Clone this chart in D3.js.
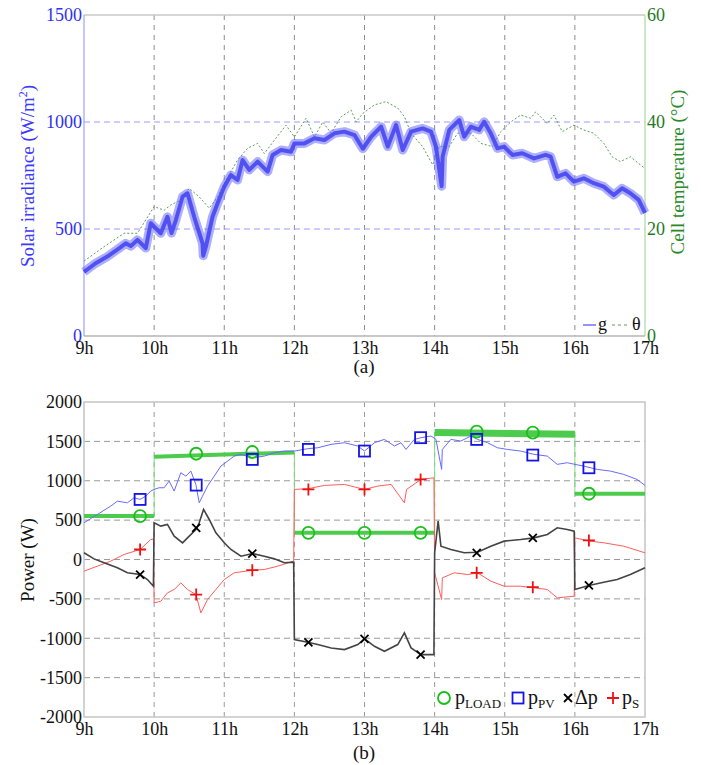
<!DOCTYPE html>
<html>
<head>
<meta charset="utf-8">
<script src="https://cdn.jsdelivr.net/npm/d3@7"></script>
<style>
  body { margin: 0; background: #fff; }
</style>
</head>
<body>
<div class="diagram"></div>
<script>
// ---- data (hours, values) ----
const hourTicks = [9, 10, 11, 12, 13, 14, 15, 16, 17];
const hourLabels = ["9h", "10h", "11h", "12h", "13h", "14h", "15h", "16h", "17h"];
const gTicks = [0, 500, 1000, 1500];
const tTicks = [0, 20, 40, 60];
const pTicks = [-2000, -1500, -1000, -500, 0, 500, 1000, 1500, 2000];

// solar irradiance g (W/m2)
const gT = [9.0, 9.167, 9.333, 9.5, 9.595, 9.667, 9.762, 9.881, 9.952, 10.0, 10.095, 10.19, 10.248, 10.31, 10.405, 10.476, 10.571, 10.69, 10.70, 10.738, 10.833, 10.905, 11.0, 11.095, 11.19, 11.262, 11.357, 11.476, 11.619, 11.69, 11.81, 11.952, 12.0, 12.143, 12.286, 12.429, 12.571, 12.714, 12.857, 12.976, 13.095, 13.237, 13.332, 13.45, 13.545, 13.664, 13.829, 13.948, 14.019, 14.10, 14.114, 14.209, 14.351, 14.422, 14.517, 14.635, 14.706, 14.801, 14.896, 14.991, 15.109, 15.251, 15.417, 15.583, 15.654, 15.749, 15.867, 15.986, 16.128, 16.27, 16.412, 16.555, 16.673, 16.791, 16.91, 17.0];
const gV = [300, 340, 371, 410, 433, 420, 449, 411, 527, 511, 480, 557, 481, 542, 651, 667, 557, 433, 375, 417, 557, 620, 698, 752, 729, 822, 776, 815, 768, 846, 869, 861, 900, 900, 924, 916, 947, 955, 939, 875, 931, 978, 885, 986, 869, 955, 970, 955, 885, 700, 838, 963, 1009, 931, 978, 963, 1001, 947, 877, 885, 846, 854, 830, 846, 838, 744, 760, 721, 737, 714, 698, 659, 690, 667, 636, 575];

// cell temperature theta (degC)
const thT = [9.0, 9.286, 9.571, 9.762, 10.0, 10.143, 10.238, 10.381, 10.5, 10.643, 10.786, 10.905, 11.0, 11.19, 11.333, 11.476, 11.571, 11.714, 11.881, 12.0, 12.167, 12.286, 12.405, 12.524, 12.667, 12.81, 12.881, 12.976, 13.142, 13.308, 13.474, 13.569, 13.664, 13.829, 13.972, 14.066, 14.209, 14.327, 14.517, 14.659, 14.825, 14.943, 15.085, 15.227, 15.37, 15.441, 15.607, 15.701, 15.82, 15.986, 16.128, 16.27, 16.412, 16.531, 16.649, 16.791, 17.0];
const thV = [14.0, 16.7, 19.2, 19.2, 24.2, 23.5, 24.5, 25.4, 27.6, 26.0, 23.9, 26.0, 28.5, 32.9, 35.1, 36.0, 34.1, 36.6, 39.4, 37.2, 40.7, 37.2, 40.0, 37.9, 41.0, 42.2, 40.0, 41.6, 43.2, 43.8, 42.6, 41.0, 37.9, 35.4, 32.0, 35.4, 35.4, 37.9, 37.9, 36.0, 35.4, 38.2, 40.0, 41.3, 40.7, 41.9, 39.7, 41.3, 38.2, 39.4, 38.5, 37.9, 36.0, 33.5, 32.6, 33.5, 31.3];

// load power (step profile)
const loadT = [9, 10, 10, 12, 12, 14, 14, 16, 16, 17];
const loadV = [551, 551, 1305, 1360, 339, 339, 1612, 1590, 835, 835];

// PV power
const pvT = [9.0, 9.19, 9.381, 9.476, 9.619, 9.714, 9.8, 9.881, 9.952, 10.0, 10.071, 10.143, 10.214, 10.286, 10.381, 10.452, 10.524, 10.595, 10.643, 10.69, 10.762, 10.857, 10.952, 11.048, 11.143, 11.238, 11.405, 11.571, 11.714, 11.857, 12.0, 12.19, 12.333, 12.524, 12.714, 12.905, 13.0, 13.142, 13.284, 13.427, 13.521, 13.592, 13.711, 13.806, 13.948, 14.019, 14.10, 14.11, 14.232, 14.374, 14.517, 14.611, 14.754, 14.896, 15.038, 15.227, 15.417, 15.607, 15.749, 15.891, 16.0, 16.128, 16.318, 16.507, 16.697, 16.886, 17.0];
const pvV = [466, 572, 678, 741, 720, 784, 763, 805, 869, 890, 911, 911, 996, 869, 1102, 1059, 1123, 953, 720, 805, 932, 1059, 1186, 1250, 1313, 1335, 1292, 1313, 1356, 1377, 1377, 1407, 1419, 1462, 1483, 1441, 1377, 1483, 1525, 1441, 1483, 1398, 1525, 1547, 1568, 1525, 1144, 1398, 1525, 1504, 1568, 1525, 1483, 1419, 1398, 1377, 1335, 1313, 1208, 1229, 1208, 1186, 1144, 1123, 1080, 1017, 941];

// delta p
const dpT = [9.0, 9.143, 9.286, 9.476, 9.619, 9.8, 9.905, 9.99, 10.0, 10.095, 10.19, 10.286, 10.405, 10.476, 10.595, 10.643, 10.705, 10.786, 10.881, 11.0, 11.095, 11.238, 11.405, 11.571, 11.714, 11.857, 11.99, 12.0, 12.19, 12.333, 12.524, 12.714, 12.905, 13.0, 13.142, 13.284, 13.474, 13.569, 13.664, 13.806, 13.99, 14.0, 14.05, 14.09, 14.232, 14.422, 14.611, 14.801, 14.991, 15.227, 15.417, 15.607, 15.749, 15.891, 15.99, 16.0, 16.2, 16.412, 16.602, 16.791, 17.0];
const dpV = [85, 8, -42, -106, -169, -191, -254, -339, 466, 424, 445, 297, 212, 275, 381, 466, 636, 508, 339, 212, 127, 42, 76, 42, 8, -42, -34, -1017, -1051, -1080, -1123, -1144, -1080, -1008, -1102, -1165, -1080, -932, -1123, -1208, -1208, 85, 487, 169, 127, 85, 93, 169, 233, 254, 275, 318, 403, 381, 360, -381, -330, -288, -254, -191, -106];

// storage power p_S
const psT = [9.0, 9.19, 9.381, 9.571, 9.8, 9.952, 9.99, 10.0, 10.095, 10.19, 10.286, 10.381, 10.476, 10.595, 10.667, 10.762, 10.881, 11.0, 11.143, 11.405, 11.571, 11.762, 11.99, 12.0, 12.19, 12.429, 12.714, 12.905, 13.0, 13.19, 13.38, 13.569, 13.6, 13.806, 13.99, 14.0, 14.1, 14.11, 14.28, 14.474, 14.611, 14.801, 14.991, 15.227, 15.417, 15.607, 15.749, 15.99, 16.0, 16.213, 16.412, 16.697, 17.0];
const psV = [-148, -85, -21, 64, 127, 254, 260, -551, -530, -424, -381, -297, -381, -445, -678, -508, -381, -254, -169, -136, -127, -85, -21, 890, 898, 941, 953, 911, 890, 932, 953, 720, 890, 1017, 1038, -169, -508, -233, -169, -191, -169, -275, -339, -339, -360, -381, -487, -466, 275, 233, 212, 169, 85];

// markers
const markT = [9.8, 10.6, 11.4, 12.2, 13.0, 13.8, 14.6, 15.4, 16.2];
const markLoad = [551, 1343, 1365, 339, 339, 339, 1623, 1610, 835];
const markPV = [763, 945, 1271, 1398, 1377, 1547, 1525, 1326, 1165];
const markDp = [-191, 403, 76, -1051, -1008, -1208, 85, 275, -330];
const markPs = [127, -445, -136, 890, 890, 1017, -169, -352, 242];

// ---- layout ----
const W = 701, H = 765;
const x0 = 84, x1 = 645;
const FONT = '"Liberation Serif", "Times New Roman", "DejaVu Serif", serif';
const svg = d3.select(".diagram").append("svg").attr("width", W).attr("height", H);

const x = d3.scaleLinear().domain([9, 17]).range([x0, x1]);
const yG = d3.scaleLinear().domain([0, 1500]).range([336, 15]);
const yT = d3.scaleLinear().domain([0, 60]).range([336, 15]);
const yP = d3.scaleLinear().domain([-2000, 2000]).range([717, 402]);

const pts = (T, V) => T.map((t, i) => [t, V[i]]);
const plain = d => String(d).replace("−", "-");

// ================= panel (a) =================
const a = svg.append("g");
a.selectAll(".vg").data(hourTicks.slice(1, -1)).enter().append("line")
  .attr("x1", d => x(d)).attr("x2", d => x(d))
  .attr("y1", yG(1500)).attr("y2", yG(0))
  .attr("stroke", "#8c8c8c").attr("stroke-dasharray", "5,5").attr("stroke-width", 1);
a.selectAll(".hg").data([500, 1000]).enter().append("line")
  .attr("x1", x0).attr("x2", x1)
  .attr("y1", d => yG(d)).attr("y2", d => yG(d))
  .attr("stroke", "#9a9aff").attr("stroke-dasharray", "6,4").attr("stroke-width", 1);
a.append("line").attr("x1", x0).attr("x2", x1).attr("y1", 15).attr("y2", 15).attr("stroke", "#c8c8c8").attr("stroke-width", 1.5);
a.append("line").attr("x1", x0).attr("x2", x1).attr("y1", 336).attr("y2", 336).attr("stroke", "#b4b4b4").attr("stroke-width", 1.5);
a.append("line").attr("x1", x0).attr("x2", x0).attr("y1", 15).attr("y2", 336).attr("stroke", "#a0a0ff").attr("stroke-width", 1.2);
a.append("line").attr("x1", x1).attr("x2", x1).attr("y1", 15).attr("y2", 336).attr("stroke", "#a8d8a8").attr("stroke-width", 1.2);

const lineG = d3.line().x(d => x(d[0])).y(d => yG(d[1]));
const lineT = d3.line().x(d => x(d[0])).y(d => yT(d[1]));
a.append("path").datum(pts(thT, thV)).attr("d", lineT)
  .attr("fill", "none").attr("stroke", "#5a9d5a").attr("stroke-width", 1).attr("stroke-dasharray", "2,2");
a.append("path").datum(pts(gT, gV)).attr("d", lineG)
  .attr("fill", "none").attr("stroke", "#6b6bff").attr("stroke-width", 9).attr("stroke-opacity", 0.55)
  .attr("stroke-linejoin", "round");
a.append("path").datum(pts(gT, gV)).attr("d", lineG)
  .attr("fill", "none").attr("stroke", "#4747f0").attr("stroke-width", 4).attr("stroke-opacity", 0.9)
  .attr("stroke-linejoin", "round");

const axL = a.append("g").attr("transform", `translate(${x0},0)`)
  .call(d3.axisLeft(yG).tickValues(gTicks).tickFormat(plain).tickSize(0).tickPadding(2));
axL.select(".domain").remove();
axL.selectAll("text").attr("fill", "#3030f0");
const axR = a.append("g").attr("transform", `translate(${x1},0)`)
  .call(d3.axisRight(yT).tickValues(tTicks).tickFormat(plain).tickSize(0).tickPadding(2));
axR.select(".domain").remove();
axR.selectAll("text").attr("fill", "#1f7a1f");
const axBa = a.append("g").attr("transform", "translate(0,336)")
  .call(d3.axisBottom(x).tickValues(hourTicks).tickFormat((d, i) => hourLabels[i]).tickSize(0).tickPadding(5));
axBa.select(".domain").remove();
axBa.selectAll("text").attr("fill", "#111");

const labG = a.append("text").attr("transform", "translate(34,176) rotate(-90)")
  .attr("text-anchor", "middle").attr("fill", "#3b3bff").style("font-size", "19px");
labG.append("tspan").text("Solar irradiance (W/m");
labG.append("tspan").attr("dy", -7).style("font-size", "12px").text("2");
labG.append("tspan").attr("dy", 7).text(")");
a.append("text").attr("transform", "translate(684,172) rotate(-90)")
  .attr("text-anchor", "middle").attr("fill", "#2a8a2a").style("font-size", "19px")
  .text("Cell temperature (°C)");

a.append("line").attr("x1", 583).attr("x2", 596).attr("y1", 325).attr("y2", 325).attr("stroke", "#7070ff").attr("stroke-width", 1.5);
a.append("text").attr("x", 598).attr("y", 330).style("font-size", "18px").attr("fill", "#111").text("g");
a.append("line").attr("x1", 612).attr("x2", 628).attr("y1", 325).attr("y2", 325).attr("stroke", "#5a9d5a").attr("stroke-width", 1.2).attr("stroke-dasharray", "3,3");
a.append("text").attr("x", 632).attr("y", 330).style("font-size", "18px").attr("fill", "#111").text("θ");

svg.append("text").attr("x", 364).attr("y", 373).attr("text-anchor", "middle").style("font-size", "19px").attr("fill", "#111").text("(a)");

// ================= panel (b) =================
const b = svg.append("g");
b.selectAll(".vg").data(hourTicks.slice(1, -1)).enter().append("line")
  .attr("x1", d => x(d)).attr("x2", d => x(d))
  .attr("y1", yP(2000)).attr("y2", yP(-2000))
  .attr("stroke", "#9a9a9a").attr("stroke-dasharray", "5,5");
b.selectAll(".hg").data(pTicks.slice(1, -1)).enter().append("line")
  .attr("x1", x0).attr("x2", x1)
  .attr("y1", d => yP(d)).attr("y2", d => yP(d))
  .attr("stroke", "#9a9a9a").attr("stroke-dasharray", "6,4");
b.append("rect").attr("x", x0).attr("y", yP(2000)).attr("width", x1 - x0).attr("height", yP(-2000) - yP(2000))
  .attr("fill", "none").attr("stroke", "#c4c4c4").attr("stroke-width", 1.5);

const lineP = d3.line().x(d => x(d[0])).y(d => yP(d[1]));
b.append("path").datum(pts(loadT, loadV)).attr("d", lineP)
  .attr("fill", "none").attr("stroke", "#7ddc7d").attr("stroke-width", 1);
[0, 2, 4, 6, 8].forEach((k, j) => {
  b.append("path").datum(pts(loadT.slice(k, k + 2), loadV.slice(k, k + 2))).attr("d", lineP)
    .attr("fill", "none").attr("stroke", "#4ccb4c").attr("stroke-width", j === 3 ? 7 : 4);
});
b.append("path").datum(pts(pvT, pvV)).attr("d", lineP)
  .attr("fill", "none").attr("stroke", "#6a6aff").attr("stroke-width", 1);
b.append("path").datum(pts(psT, psV)).attr("d", lineP)
  .attr("fill", "none").attr("stroke", "#ff5c5c").attr("stroke-width", 1);
b.append("path").datum(pts(dpT, dpV)).attr("d", lineP)
  .attr("fill", "none").attr("stroke", "#444").attr("stroke-width", 1.6);

const circ = (g, cx, cy) => g.append("circle").attr("cx", cx).attr("cy", cy).attr("r", 6)
  .attr("fill", "none").attr("stroke", "#19c019").attr("stroke-width", 1.8);
const sq = (g, cx, cy) => g.append("rect").attr("x", cx - 5.5).attr("y", cy - 5.5).attr("width", 11).attr("height", 11)
  .attr("fill", "none").attr("stroke", "#1414e6").attr("stroke-width", 1.8);
const cross = (g, cx, cy) => g.append("path").attr("d", `M${cx - 4},${cy - 4}L${cx + 4},${cy + 4}M${cx - 4},${cy + 4}L${cx + 4},${cy - 4}`)
  .attr("stroke", "#000").attr("stroke-width", 1.8);
const plus = (g, cx, cy) => g.append("path").attr("d", `M${cx - 6},${cy}L${cx + 6},${cy}M${cx},${cy - 6}L${cx},${cy + 6}`)
  .attr("stroke", "#ee1111").attr("stroke-width", 1.8);
markT.forEach((t, i) => {
  circ(b, x(t), yP(markLoad[i]));
  sq(b, x(t), yP(markPV[i]));
  cross(b, x(t), yP(markDp[i]));
  plus(b, x(t), yP(markPs[i]));
});

const axP = b.append("g").attr("transform", `translate(${x0},0)`)
  .call(d3.axisLeft(yP).tickValues(pTicks).tickFormat(plain).tickSize(0).tickPadding(2));
axP.select(".domain").remove();
axP.selectAll("text").attr("fill", "#111");
const axBb = b.append("g").attr("transform", `translate(0,${yP(-2000)})`)
  .call(d3.axisBottom(x).tickValues(hourTicks).tickFormat((d, i) => hourLabels[i]).tickSize(0).tickPadding(5));
axBb.select(".domain").remove();
axBb.selectAll("text").attr("fill", "#111");

b.append("text").attr("transform", "translate(34,560) rotate(-90)")
  .attr("text-anchor", "middle").attr("fill", "#111").style("font-size", "19px").text("Power (W)");

// legend (b)
const ly = 698;
circ(b, 444, ly);
const t1 = b.append("text").attr("x", 455).attr("y", 704).style("font-size", "20px").attr("fill", "#111");
t1.append("tspan").text("p");
t1.append("tspan").attr("dy", 4).style("font-size", "13px").text("LOAD");
sq(b, 518, ly);
const t2 = b.append("text").attr("x", 528).attr("y", 704).style("font-size", "20px").attr("fill", "#111");
t2.append("tspan").text("p");
t2.append("tspan").attr("dy", 4).style("font-size", "13px").text("PV");
cross(b, 568, ly);
b.append("text").attr("x", 575).attr("y", 704).style("font-size", "20px").attr("fill", "#111").text("Δp");
plus(b, 613, ly);
const t3 = b.append("text").attr("x", 622).attr("y", 704).style("font-size", "20px").attr("fill", "#111");
t3.append("tspan").text("p");
t3.append("tspan").attr("dy", 4).style("font-size", "13px").text("S");

svg.append("text").attr("x", 364).attr("y", 759).attr("text-anchor", "middle").style("font-size", "19px").attr("fill", "#111").text("(b)");

// serif everywhere, tick labels 18px
svg.selectAll("g.tick text").style("font-size", "18px");
svg.selectAll("g").attr("font-family", null);
svg.selectAll("text").style("font-family", FONT);
</script>
</body>
</html>
